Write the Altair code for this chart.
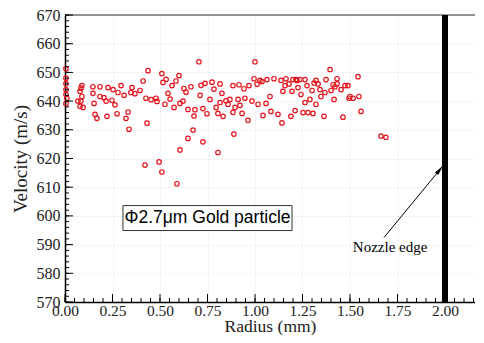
import altair as alt
import pandas as pd

radius = [0.005, 0.005, 0.005, 0.005, 0.005, 0.01, 0.005,
          0.089, 0.084, 0.079, 0.089, 0.084, 0.079, 0.068, 0.095,
          0.147, 0.147, 0.153, 0.158, 0.168,
          0.184, 0.184, 0.226, 0.216, 0.205, 0.221,
          0.253, 0.247, 0.263, 0.274, 0.279, 0.295, 0.311, 0.321, 0.332,
          0.347, 0.353, 0.368, 0.395, 0.411, 0.426, 0.437,
          0.453, 0.479, 0.484, 0.51, 0.516, 0.526, 0.532,
          0.542, 0.553, 0.563, 0.574, 0.584, 0.6, 0.605,
          0.621, 0.626, 0.637, 0.647, 0.663, 0.679, 0.684,
          0.705, 0.711, 0.716, 0.726, 0.737, 0.747, 0.763, 0.774,
          0.784, 0.795, 0.805, 0.816, 0.816, 0.826, 0.832,
          0.847, 0.858, 0.868, 0.884, 0.884, 0.895, 0.911, 0.916, 0.921,
          0.932, 0.942, 0.947, 0.963, 0.968, 0.984, 0.995, 1.0, 1.011,
          1.016, 1.026, 1.037, 1.042, 1.058, 1.063, 1.079, 1.084, 1.1,
          1.121, 1.137, 1.142, 1.147, 1.158, 1.163, 1.179, 1.189, 1.195,
          1.2, 1.211, 1.216, 1.221, 1.226, 1.237, 1.242, 1.253, 1.263,
          1.263, 1.274, 1.279, 1.289, 1.3, 1.305, 1.311, 1.321, 1.321,
          1.332, 1.342, 1.347, 1.363, 1.374, 1.368, 1.395, 1.4, 1.411,
          1.416, 1.421, 1.432, 1.432, 1.463, 1.453, 1.474, 1.489, 1.495,
          1.5, 1.516, 1.542, 1.547, 1.558, 1.663, 1.689,
          0.337, 0.432, 0.421, 0.495, 0.51, 0.589, 0.605, 0.647, 0.674, 0.726, 0.805, 0.889]

velocity = [651.3, 648.0, 646.1, 644.0, 642.3, 641.0, 639.1,
            645.4, 644.5, 643.4, 641.6, 640.0, 638.2, 640.0, 637.8,
            645.0, 642.7, 639.2, 635.4, 634.0,
            645.0, 641.6, 644.7, 640.0, 641.2, 634.7,
            644.0, 640.3, 638.7, 635.6, 643.0, 645.4, 642.0, 634.0, 636.2,
            643.0, 644.7, 642.6, 643.7, 647.0, 641.0, 650.6,
            640.5, 641.0, 639.9, 649.6, 646.5, 638.9, 647.6,
            642.7, 640.7, 645.4, 637.8, 647.0, 648.9, 639.2,
            640.0, 644.4, 643.1, 637.1, 645.0, 634.8, 637.0,
            653.7, 642.0, 645.5, 637.4, 646.2, 635.6, 640.6, 646.6,
            644.2, 637.8, 635.7, 646.0, 639.5, 642.7, 634.7,
            640.1, 638.9, 640.6, 636.1, 645.4, 637.8, 640.6, 645.7, 638.5,
            635.7, 644.3, 641.0, 633.3, 645.4, 640.0, 647.8, 653.7, 645.9,
            638.9, 647.2, 646.8, 635.0, 639.2, 647.5, 641.6, 636.4, 647.8,
            635.4, 647.2, 632.4, 643.4, 645.4, 647.8, 646.0, 634.7, 643.4,
            647.5, 636.7, 647.5, 647.2, 644.7, 647.5, 642.3, 636.0, 639.5,
            647.5, 645.4, 636.0, 640.6, 643.7, 635.7, 646.3, 647.2, 638.9,
            646.0, 644.0, 641.6, 634.7, 647.5, 643.0, 651.0, 643.7, 645.7,
            640.6, 645.0, 647.8, 646.0, 634.4, 644.0, 645.4, 645.4, 641.0,
            641.6, 641.0, 648.5, 641.6, 636.4, 627.8, 627.4,
            630.2, 632.3, 617.7, 618.8, 615.3, 611.2, 623.0, 627.0, 629.9, 625.8, 622.1, 628.5]

x_major = [0.0, 0.25, 0.5, 0.75, 1.0, 1.25, 1.5, 1.75, 2.0]
y_major = [570, 580, 590, 600, 610, 620, 630, 640, 650, 660, 670]
x_minor = [round(i * 0.05, 2) for i in range(44)]
y_minor = [570 + 2 * i for i in range(51)]

nozzle_x = [2.0]
arrow_start = [1.679, 592.5]
arrow_head = [1.973, 616.1]
nozzle_label = ["Nozzle edge", 1.711, 589.0]
box_label = ["\u03a62.7\u03bcm Gold particle", 0.75, 599.2]
box_extent = [0.305, 1.195, 594.9, 603.6]

W, H = 410, 287
X_MAX = 410 / 190
SERIF = "Liberation Serif"
SANS = "Liberation Sans"

xs = alt.Scale(domain=[0, X_MAX], nice=False, zero=False)
ys = alt.Scale(domain=[570, 670], nice=False, zero=False)

AX_X = alt.Axis(
    values=x_major, format=".2f", title="Radius (mm)", ticks=False,
    labelFont=SERIF, labelFontSize=15.5, labelColor="#222", labelPadding=1,
    labelOverlap=False, labelFlush=False,
    titleFont=SERIF, titleFontSize=17.5, titleFontWeight="normal", titleColor="#222",
    titlePadding=-1, domainColor="black", domainWidth=1.5,
    grid=True, gridColor="#d8d8d8", gridDash=[1, 3], gridWidth=1)
AX_Y = alt.Axis(
    values=y_major, format="d", title="Velocity (m/s)", ticks=False,
    labelFont=SERIF, labelFontSize=16, labelColor="#222", labelPadding=5,
    labelOverlap=False, labelFlush=False,
    titleFont=SERIF, titleFontSize=19, titleFontWeight="normal", titleColor="#222",
    titlePadding=6, domainColor="black", domainWidth=1.5,
    grid=True, gridColor="#d8d8d8", gridDash=[1, 3], gridWidth=1)


def X(field):
    return alt.X(field, scale=xs, axis=AX_X)


def Y(field):
    return alt.Y(field, scale=ys, axis=AX_Y)


df = pd.DataFrame({"r": radius, "v": velocity})

points = alt.Chart(df).mark_point(
    shape="circle", filled=False, color="#e3141c", size=20, strokeWidth=1.2, opacity=1
).encode(x=X("r:Q"), y=Y("v:Q"))

xmaj = pd.DataFrame({"t": x_major})
xmin = pd.DataFrame({"t": x_minor})
ymaj = pd.DataFrame({"t": y_major})
ymin = pd.DataFrame({"t": y_minor})

xt_major = alt.Chart(xmaj).mark_rule(color="black", strokeWidth=1).encode(
    x=X("t:Q"), y=alt.value(H), y2=alt.value(H - 8))
xt_minor = alt.Chart(xmin).mark_rule(color="black", strokeWidth=1).encode(
    x=X("t:Q"), y=alt.value(H), y2=alt.value(H - 4))
yt_major = alt.Chart(ymaj).mark_rule(color="black", strokeWidth=1).encode(
    y=Y("t:Q"), x=alt.value(0), x2=alt.value(8))
yt_minor = alt.Chart(ymin).mark_rule(color="black", strokeWidth=1).encode(
    y=Y("t:Q"), x=alt.value(0), x2=alt.value(4))

top_border = alt.Chart(pd.DataFrame({"a": [0]})).mark_rule(color="#777", strokeWidth=1.5).encode(
    x=alt.value(0), x2=alt.value(W), y=alt.value(0))

nozzle = alt.Chart(pd.DataFrame({"x": nozzle_x})).mark_rule(color="black", strokeWidth=6).encode(
    x=X("x:Q"), y=alt.value(0), y2=alt.value(H))

arrow_df = pd.DataFrame({"x": [arrow_start[0]], "y": [arrow_start[1]],
                         "x2": [arrow_head[0]], "y2": [arrow_head[1]]})
arrow_line = alt.Chart(arrow_df).mark_rule(color="black", strokeWidth=1).encode(
    x=X("x:Q"), y=Y("y:Q"), x2="x2:Q", y2="y2:Q")

head_df = pd.DataFrame({"x": [arrow_head[0]], "y": [arrow_head[1]]})
arrow_tip_mark = alt.Chart(head_df).mark_point(
    shape="M0,-1L0.4,1L-0.4,1Z", filled=True, color="black", size=110, angle=39, opacity=1
).encode(x=X("x:Q"), y=Y("y:Q"))

nz_text = alt.Chart(pd.DataFrame({"t": [nozzle_label[0]], "x": [nozzle_label[1]], "y": [nozzle_label[2]]})).mark_text(
    font=SERIF, fontSize=15, color="black", align="center", baseline="middle"
).encode(x=X("x:Q"), y=Y("y:Q"), text="t:N")

box_df = pd.DataFrame({"x": [box_extent[0]], "x2": [box_extent[1]], "y": [box_extent[2]], "y2": [box_extent[3]]})
box = alt.Chart(box_df).mark_rect(fill="white", stroke="#333", strokeWidth=1).encode(
    x=X("x:Q"), x2="x2:Q", y=Y("y:Q"), y2="y2:Q")

box_text = alt.Chart(pd.DataFrame({"t": [box_label[0]], "x": [box_label[1]], "y": [box_label[2]]})).mark_text(
    font=SANS, fontSize=17.5, color="black", align="center", baseline="middle"
).encode(x=X("x:Q"), y=Y("y:Q"), text="t:N")

chart = alt.layer(
    points, top_border, xt_minor, xt_major, yt_minor, yt_major,
    nozzle, arrow_line, arrow_tip_mark, nz_text, box, box_text
).properties(
    width=W, height=H,
    autosize=alt.AutoSizeParams(type="none"),
    padding={"left": 57, "top": 7, "right": 0, "bottom": 33},
).configure_view(stroke=None).configure(background="white")

chart.save("out.html", embed_options={"renderer": "svg", "actions": False})
